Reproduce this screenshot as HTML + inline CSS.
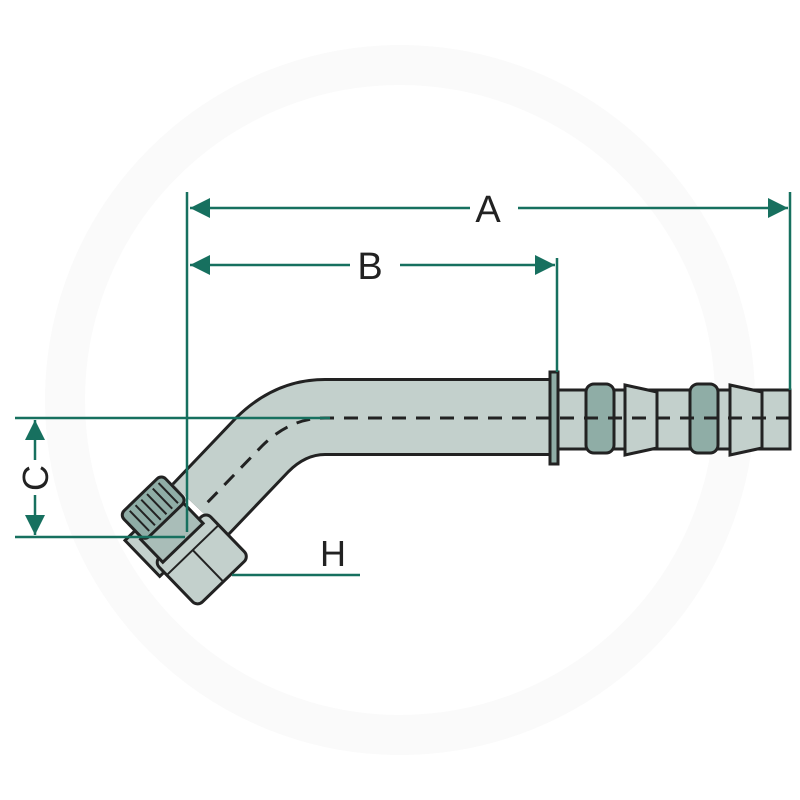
<!DOCTYPE html>
<html><head><style>body{margin:0;background:#fff}svg{display:block}</style></head><body>
<svg width="800" height="800" viewBox="0 0 800 800" xmlns="http://www.w3.org/2000/svg" font-family="Liberation Sans, sans-serif">
<defs><marker id="ar" viewBox="0 0 10 10" refX="10" refY="5" markerWidth="34" markerHeight="20" markerUnits="userSpaceOnUse" orient="auto-start-reverse"><path d="M0 0L10 5L0 10Z" fill="#17705f"/></marker></defs>
<circle cx="400" cy="400" r="335" fill="none" stroke="#fafafa" stroke-width="40"/>
<!-- tube -->
<path d="M552 417 L325 417 Q290 417 262 445 L200 510" fill="none" stroke="#222" stroke-width="78"/>
<path d="M552 417 L325 417 Q290 417 262 445 L200 510" fill="none" stroke="#c3d0cc" stroke-width="72"/>
<!-- hose tail -->
<rect x="556" y="390" width="234" height="59" fill="#c3d0cc" stroke="#222" stroke-width="3"/>
<path d="M625 385 L657 392 L657 448 L625 455Z M730 385 L762 392 L762 448 L730 455Z" fill="#c3d0cc" stroke="#222" stroke-width="3"/>
<rect x="586" y="384" width="28" height="69" rx="8" fill="#8fada6" stroke="#222" stroke-width="3"/>
<rect x="690" y="384" width="28" height="69" rx="8" fill="#8fada6" stroke="#222" stroke-width="3"/>
<rect x="550" y="372" width="8" height="92" fill="#8fada6" stroke="#222" stroke-width="3"/>
<!-- centerline -->
<path d="M790 418 L325 418 Q290 418 262 446 L205 505" fill="none" stroke="#222" stroke-width="3" stroke-dasharray="14 10"/>
<!-- nut -->
<g transform="translate(183,540) rotate(46)">
<rect x="-40" y="28" width="50" height="14" fill="#c3d0cc" stroke="#222" stroke-width="3"/>
<rect x="-4" y="-36" width="62" height="72" rx="7" fill="#c3d0cc" stroke="#222" stroke-width="3"/>
<line x1="14" y1="-36" x2="14" y2="36" stroke="#222" stroke-width="2"/>
<line x1="14" y1="0" x2="58" y2="0" stroke="#222" stroke-width="2"/>
<rect x="-30" y="-26" width="32" height="56" fill="#a9bdb8" stroke="#222" stroke-width="3"/>
<rect x="-62" y="-30" width="36" height="58" rx="6" fill="#8fada6" stroke="#222" stroke-width="3"/>
<path d="M-58 -22H-30M-58 -14H-30M-58 -6H-30M-58 2H-30M-58 10H-30M-58 18H-30" stroke="#222" stroke-width="2"/>
</g>
<!-- dimensions -->
<g stroke="#17705f" stroke-width="2.5" fill="none">
<line x1="187" y1="192" x2="187" y2="532"/>
<line x1="790" y1="192" x2="790" y2="390"/>
<line x1="557" y1="258" x2="557" y2="372"/>
<line x1="190" y1="208" x2="470" y2="208" marker-start="url(#ar)"/>
<line x1="518" y1="208" x2="788" y2="208" marker-end="url(#ar)"/>
<line x1="190" y1="265" x2="350" y2="265" marker-start="url(#ar)"/>
<line x1="400" y1="265" x2="555" y2="265" marker-end="url(#ar)"/>
<line x1="15" y1="418" x2="330" y2="418"/>
<line x1="15" y1="537" x2="185" y2="537"/>
<line x1="35" y1="420" x2="35" y2="460" marker-start="url(#ar)"/>
<line x1="35" y1="495" x2="35" y2="535" marker-end="url(#ar)"/>
<line x1="232" y1="575" x2="360" y2="575"/>
</g>
<g fill="#222" font-size="38" text-anchor="middle">
<text x="488" y="222">A</text>
<text x="370" y="279">B</text>
<text x="333" y="566" font-size="36">H</text>
<text transform="translate(48,478) rotate(-90)" font-size="36">C</text>
</g>
</svg>
</body></html>
